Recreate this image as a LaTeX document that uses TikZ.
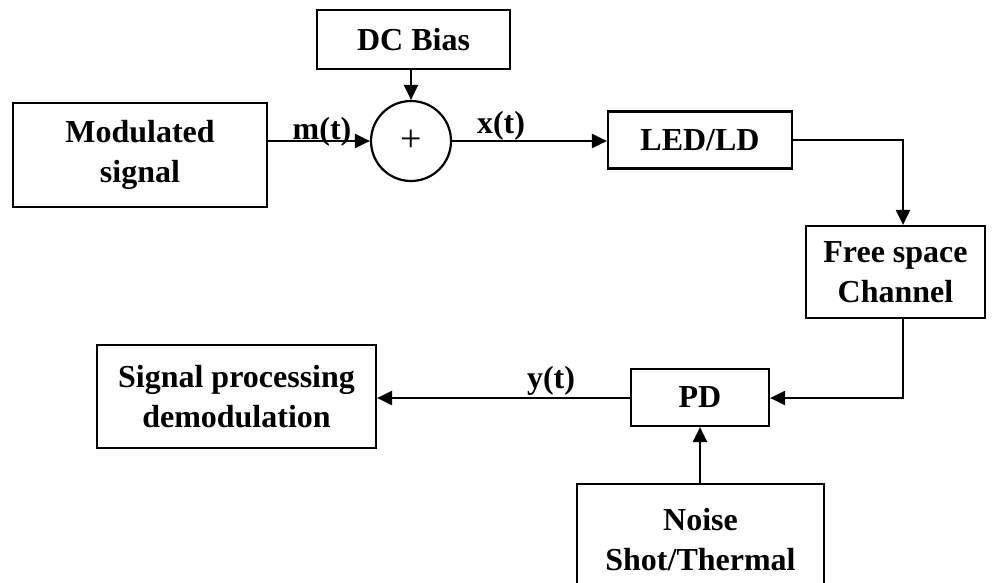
\documentclass[tikz,border=0pt]{standalone}
\usepackage{fontspec}
\setmainfont{Liberation Serif}
\usetikzlibrary{arrows.meta}
\begin{document}
\begin{tikzpicture}[x=1pt,y=-1pt,
  blk/.style={draw,line width=2.2pt,rectangle,align=center,inner sep=0pt,
    font=\fontsize{32}{40}\selectfont\bfseries},
  lbl/.style={font=\fontsize{32}{36}\selectfont\bfseries,inner sep=0pt,anchor=base},
  arr/.style={line width=2.2pt,-{Triangle[length=15pt,width=14pt]}}]
\useasboundingbox (0,0) rectangle (995,582);
\clip (0,0) rectangle (995,582);
\node[blk,minimum width=254pt,minimum height=104pt] (mod) at (140,155) {Modulated\\signal};
\node[blk,minimum width=193pt,minimum height=59pt] (dc) at (413.5,39.5) {DC Bias};
\node[draw,line width=2.2pt,circle,minimum size=80pt,inner sep=0pt,
  font=\fontsize{38}{38}\selectfont] (sum) at (411,141) {+};
\node[blk,minimum width=184pt,minimum height=57pt] (led) at (700,140) {LED/LD};
\node[blk,minimum width=179pt,minimum height=92pt] (fs) at (895.5,272) {Free space\\Channel};
\node[blk,minimum width=138pt,minimum height=57pt] (pd) at (700,397.5) {PD};
\node[blk,minimum width=279pt,minimum height=103pt] (sp) at (236.5,396.5) {Signal processing\\demodulation};
\node[blk,minimum width=247pt,minimum height=112pt] (noise) at (700.5,540) {Noise\\Shot/Thermal};
\draw[arr] (mod.east|-sum) -- (sum.west);
\draw[arr] (dc.south-|sum) -- (sum.north);
\draw[arr] (sum.east) -- (led.west|-sum);
\coordinate (c1) at (903,140);
\draw[arr] (led.east) -- (led.east-|c1) -- (fs.north-|c1);
\coordinate (c2) at (903,398);
\draw[arr] (fs.south-|c2) -- (c2) -- (pd.east|-c2);
\draw[arr] (pd.west|-c2) -- (sp.east|-c2);
\draw[arr] (noise.north-|pd) -- (pd.south);
\node[lbl] (mt) at (322,139) {m(t)};
\node[lbl] (xt) at (501,133) {x(t)};
\node[lbl] (yt) at (551,388) {y(t)};
\end{tikzpicture}
\end{document}
